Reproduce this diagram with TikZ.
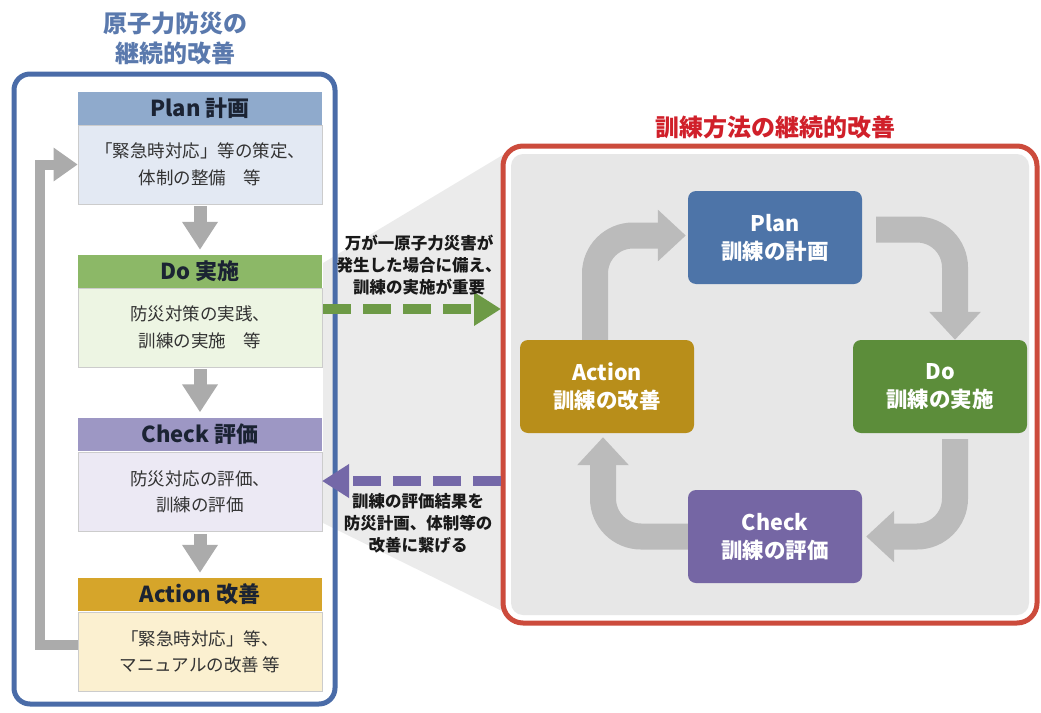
\documentclass[tikz,border=0pt]{standalone}
\usepackage{fontspec}
\setmainfont{Noto Sans CJK JP}
\usetikzlibrary{arrows.meta,calc}
\definecolor{lblue}{HTML}{4A6CA8}
\definecolor{ltitle}{HTML}{5A79AD}
\definecolor{rred}{HTML}{CC4B3C}
\definecolor{rtitle}{HTML}{D0202A}
\definecolor{planH}{HTML}{8FAACC}
\definecolor{planB}{HTML}{E3E9F3}
\definecolor{doH}{HTML}{8CB867}
\definecolor{doB}{HTML}{EDF5E3}
\definecolor{chkH}{HTML}{9D97C4}
\definecolor{chkB}{HTML}{ECE9F4}
\definecolor{actH}{HTML}{D6A52A}
\definecolor{actB}{HTML}{FBF0D0}
\definecolor{rPlan}{HTML}{4D74A8}
\definecolor{rDo}{HTML}{5C8D3A}
\definecolor{rChk}{HTML}{7566A4}
\definecolor{rAct}{HTML}{B88E1A}
\definecolor{hdtext}{HTML}{1B2333}
\definecolor{bodytext}{HTML}{333333}
\definecolor{arrgray}{HTML}{ABABAB}
\definecolor{cycgray}{HTML}{BBBBBB}
\definecolor{wedge}{HTML}{EBEBEB}
\definecolor{inner}{HTML}{E7E7E7}
\definecolor{garr}{HTML}{6D9A46}
\definecolor{parr}{HTML}{7468A8}
\begin{document}
\begin{tikzpicture}[x=1pt,y=-1pt,
  hdr/.style={minimum width=244pt,minimum height=33pt,inner sep=0pt,text=hdtext,
    font=\fontsize{22}{26}\selectfont\bfseries},
  bdy/.style={minimum width=244pt,minimum height=79pt,inner sep=0pt,text=bodytext,
    draw=black!20,line width=0.6pt,align=center,font=\fontsize{17.5}{26.5}\selectfont},
  rnode/.style={minimum width=174pt,minimum height=93pt,inner sep=0pt,rounded corners=8pt,
    text=white,align=center,font=\fontsize{21.5}{28}\selectfont\bfseries},
  downarr/.style={draw=arrgray,line width=13pt,-{Triangle[width=34pt,length=28pt]},
    shorten <=2pt,shorten >=5pt},
  retarr/.style={draw=arrgray,line width=10pt,-{Triangle[width=32pt,length=24pt]}},
  cyc/.style={draw=cycgray,line width=26pt,rounded corners=38pt,-{Triangle[width=50pt,length=28pt]}},
  midtext/.style={align=center,font=\fontsize{16.5}{22}\selectfont\bfseries,text=black!90}
]
\useasboundingbox (0,0) rectangle (1041,712);

% wedge
\fill[wedge] (323,263) -- (506,153) -- (506,613) -- (323,523) -- cycle;

% titles
\node[text=ltitle,align=center,font=\fontsize{24}{30}\selectfont\bfseries] (ltitle) at (175,38) {原子力防災の\\継続的改善};
\node[text=rtitle,font=\fontsize{24}{30}\selectfont\bfseries] (rtitle) at (775,127) {訓練方法の継続的改善};

% left box
\draw[lblue,line width=5pt,rounded corners=16pt] (14,74) rectangle (335,704);

% right box
\draw[rred,line width=5pt,rounded corners=20pt,fill=white] (503,146) rectangle (1037,623);
\fill[inner,rounded corners=12pt] (511,154) rectangle (1029,615);

% left stack
\node[hdr,fill=planH] (planh) at (200,108.5) {Plan 計画};
\node[bdy,fill=planB] (planb) at (200,164.5) {「緊急時対応」等の策定、\\体制の整備\quad 等};
\node[hdr,fill=doH] (doh) at (200,271.5) {Do 実施};
\node[bdy,fill=doB] (dob) at (200,327.5) {防災対策の実践、\\訓練の実施\quad 等};
\node[hdr,fill=chkH] (chkh) at (200,434) {Check 評価};
\node[bdy,fill=chkB] (chkb) at (200,492) {防災対応の評価、\\訓練の評価};
\node[hdr,fill=actH] (acth) at (200,594.5) {Action 改善};
\node[bdy,fill=actB] (actb) at (200,652) {「緊急時対応」等、\\マニュアルの改善 等};

\draw[downarr] (planb.south) -- (doh.north);
\draw[downarr] (dob.south) -- (chkh.north);
\draw[downarr] (chkb.south) -- (acth.north);
\coordinate (retc) at (40,645);
\draw[retarr] ([yshift=7pt]actb.west) -- (retc) |- (planb.west);

% right cycle
\node[rnode,fill=rPlan] (rP) at (775,237.5) {Plan\\訓練の計画};
\node[rnode,fill=rDo] (rD) at (940,386.5) {Do\\訓練の実施};
\node[rnode,fill=rChk] (rC) at (775,536.5) {Check\\訓練の評価};
\node[rnode,fill=rAct] (rA) at (607,386.5) {Action\\訓練の改善};

\draw[cyc,shorten >=2pt] ([xshift=-12pt]rA.north) |- ([yshift=2pt]rP.west);
\draw[cyc,shorten <=14pt] ([yshift=8pt]rP.east) -| ([xshift=15pt]rD.north);
\draw[cyc,shorten <=6pt,shorten >=4pt] ([xshift=15pt]rD.south) |- (rC.east);
\draw[cyc,shorten >=4pt] (rC.west) -| ([xshift=-4pt]rA.south);

% dashed connectors
\coordinate (gs) at (323,309);
\coordinate (ge) at (501,309);
\draw[garr,line width=10pt,dash pattern=on 28pt off 12pt,-{Triangle[width=32pt,length=27pt]}] (gs) -- (ge);
\coordinate (ps) at (501,481);
\coordinate (pe) at (322,481);
\draw[parr,line width=10pt,dash pattern=on 28pt off 12pt,-{Triangle[width=32pt,length=27pt]}] (ps) -- (pe);

\node[midtext] (gtext) at (419,265) {万が一原子力災害が\\発生した場合に備え、\\訓練の実施が重要};
\node[midtext] (ptext) at (418,523) {訓練の評価結果を\\防災計画、体制等の\\改善に繋げる};
\end{tikzpicture}
\end{document}
